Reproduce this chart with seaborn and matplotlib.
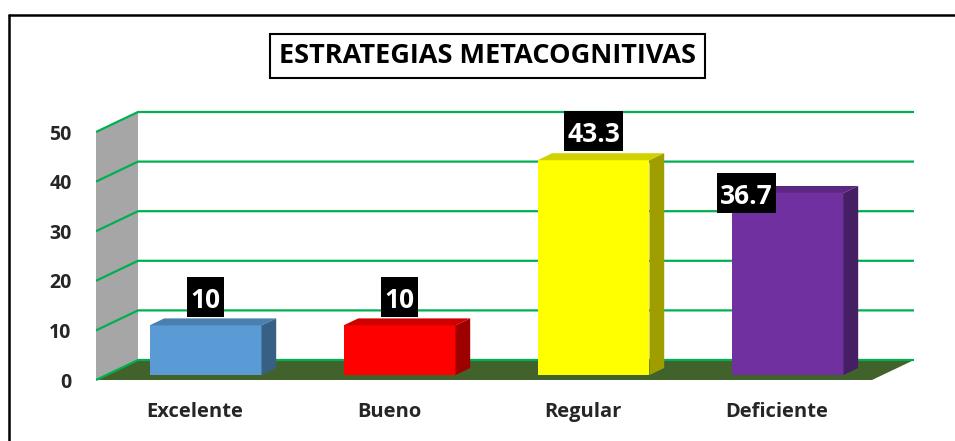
import matplotlib
matplotlib.use("Agg")
import matplotlib.pyplot as plt
from matplotlib.patches import Polygon, Rectangle
from matplotlib.lines import Line2D
from matplotlib.path import Path
import numpy as np
import pandas as pd
import seaborn as sns

# datos del grafico
categorias = ['Excelente', 'Bueno', 'Regular', 'Deficiente']
porcentajes = [10, 10, 43.3, 36.7]
etiquetas = ['10', '10', '43.3', '36.7']
titulo = 'ESTRATEGIAS METACOGNITIVAS'
ticks_y = [0, 10, 20, 30, 40, 50]

# colores (frente de cada barra)
colores = ['#5b9bd5', '#ff0000', '#ffff00', '#7030a0']
colorPared = '#a6a6a6'
colorPiso = '#41622a'
colorGrid = '#00b050'

sns.set_style('white')
plt.rcParams['font.family'] = ['Open Sans', 'DejaVu Sans']
plt.rcParams['font.weight'] = 'bold'

df = pd.DataFrame({'cat': categorias, 'val': porcentajes})


def caja(izq, der, abajo, arriba):
    "Recuadro con relleno distinto en cada lado (en pixeles)"
    def estilo(x0, y0, width, height, mutation_size):
        xa, xb = x0 - izq, x0 + width + der
        ya, yb = y0 - abajo, y0 + height + arriba
        return Path([(xa, ya), (xb, ya), (xb, yb), (xa, yb), (xa, ya)], closed=True)
    return estilo


# escala: 194 px por categoria, 4.96 px por unidad
W, H = 955, 441
fig = plt.figure(figsize=(W / 100, H / 100), dpi=100)
ax_l, ax_r, ax_t, ax_b = 96, 920, 100, 385
ax = fig.add_axes([ax_l / W, 1 - ax_b / H, (ax_r - ax_l) / W, (ax_b - ax_t) / H])

x0px, pxcat = 195, 194
y0px, pxval = 380, 4.96
xlim = ((ax_l - x0px) / pxcat, (ax_r - x0px) / pxcat)
ylim = ((y0px - ax_b) / pxval, (y0px - ax_t) / pxval)

# profundidad (perspectiva oblicua)
DX = 42 / pxcat
DY = 20 / pxval
def proj(x, v, d):
    return (x + d * DX, v + d * DY)

xl = (96 - x0px) / pxcat
xr = (872 - x0px) / pxcat

# pared y piso
pared = [proj(xl, 0, 0), proj(xl, 0, 1), proj(xl, 50, 1), proj(xl, 50, 0)]
ax.add_patch(Polygon(pared, closed=True, fc=colorPared, ec='none', zorder=1))
piso = [proj(xl, 0, 0), proj(xr, 0, 0), proj(xr, 0, 1), proj(xl, 0, 1)]
ax.add_patch(Polygon(piso, closed=True, fc=colorPiso, ec='none', zorder=1))

# lineas de cuadricula
for v in ticks_y:
    pts = [proj(xl, v, 0), proj(xl, v, 1), proj(xr, v, 1)]
    ax.plot([p[0] for p in pts], [p[1] for p in pts], color=colorGrid, lw=1.6,
            zorder=2, solid_capstyle='butt')

# barras (cara frontal con seaborn)
ancho = 112 / pxcat
sns.barplot(data=df, x='cat', y='val', hue='cat', palette=colores, width=ancho,
            saturation=1, legend=False, ax=ax, zorder=4)

d0, d1 = 0.25, 0.6
barras = sorted([p for p in ax.patches if isinstance(p, Rectangle)],
                key=lambda p: p.get_x())
for i, p in enumerate(barras):
    x_izq = p.get_x()
    w = p.get_width()
    alto = p.get_height()
    p.set_x(x_izq + d0 * DX)
    p.set_y(d0 * DY)
    p.set_edgecolor('none')
    base = np.array(matplotlib.colors.to_rgb(colores[i]))
    arriba = [proj(x_izq, alto, d0), proj(x_izq + w, alto, d0),
              proj(x_izq + w, alto, d1), proj(x_izq, alto, d1)]
    ax.add_patch(Polygon(arriba, closed=True, fc=base * 0.82, ec='none', zorder=4))
    lado = [proj(x_izq + w, 0, d0), proj(x_izq + w, 0, d1),
            proj(x_izq + w, alto, d1), proj(x_izq + w, alto, d0)]
    ax.add_patch(Polygon(lado, closed=True, fc=base * 0.62, ec='none', zorder=4))

# etiquetas de datos (posiciones ajustadas como en el original)
ajuste_x = [0.0, 0.0, 0.0, -0.21]
ajuste_y = [3.6, 3.6, 3.6, -2.2]
for i, (v, t) in enumerate(zip(porcentajes, etiquetas)):
    x, y = proj(i, v, d0)
    ax.text(x + ajuste_x[i], y + ajuste_y[i], t, ha='center', va='baseline',
            color='white', fontsize=19, fontweight='bold', zorder=6,
            bbox=dict(boxstyle=caja(3, 3, 3, 10), fc='black', ec='none'))

ax.set_xlim(*xlim)
ax.set_ylim(*ylim)
ax.set_yticks(ticks_y)
ax.set_yticklabels([str(t) for t in ticks_y], fontsize=14, fontweight='bold')
ax.set_xticks(range(len(categorias)))
ax.set_xticklabels(categorias, fontsize=14.5, fontweight='bold')
ax.tick_params(axis='y', length=0, pad=17.5)
ax.tick_params(axis='x', length=0, pad=12)
ax.set_xlabel('')
ax.set_ylabel('')
for s in ax.spines.values():
    s.set_visible(False)
ax.set_facecolor('none')

# titulo con recuadro
fig.text(487.5 / W, 1 - 56 / H, titulo, ha='center', va='center', fontsize=19.5,
         fontweight='bold', color='black',
         bbox=dict(boxstyle=caja(9, 9, 9, 9), fc='white', ec='black', lw=1.5))

# borde del area del grafico
fig.add_artist(Line2D([8.5 / W, 8.5 / W], [0, 1 - 15 / H], color='black', lw=1.8))
fig.add_artist(Line2D([8.5 / W, 1], [1 - 15 / H, 1 - 15 / H], color='black', lw=1.8))

fig.savefig('out.png', dpi=100)
